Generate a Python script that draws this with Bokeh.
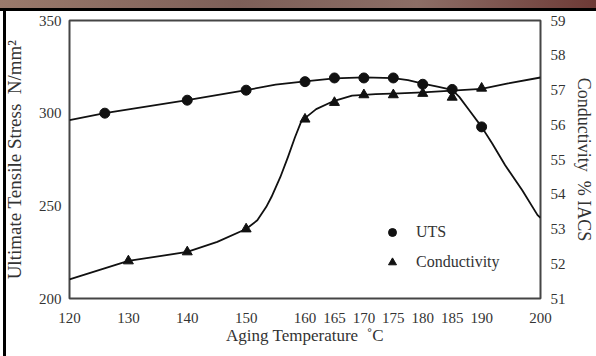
from bokeh.plotting import figure
from bokeh.models import Range1d, LinearAxis, FixedTicker, Legend, LegendItem
from bokeh.embed import file_html
from bokeh.resources import INLINE

# ---- data ----
x_ticks = [120, 130, 140, 150, 160, 165, 170, 175, 180, 185, 190, 200]
uts_ticks = [200, 250, 300, 350]
cond_ticks = [51, 52, 53, 54, 55, 56, 57, 58, 59]

uts_temp = [126, 140, 150, 160, 165, 170, 175, 180, 185, 190]
uts_val = [300, 307, 312.4, 317, 319, 319, 319, 315.6, 312.8, 292.6]

cond_temp = [130, 140, 150, 160, 165, 170, 175, 180, 185, 190]
cond_val = [52.08, 52.34, 53.0, 56.16, 56.64, 56.86, 56.86, 56.9, 56.79, 57.05]

# fitted curves
uts_curve_temp = [120, 126, 140, 150, 155, 160, 165, 170, 175, 177.5, 180, 182.5, 185,
                  186.2, 187.9, 190, 191.8, 194, 196.9, 199.5, 200]
uts_curve_val = [296.2, 300, 307, 312.4, 315.4, 317.2, 318.8, 319.3, 318.9, 317.8, 316, 314.3, 312.6,
                 308.8, 301.6, 292.6, 283.6, 271.9, 258.4, 245, 243.5]

cond_curve_temp = [120, 130, 140, 145.1, 150, 151.9, 153.4, 154.3, 155.8, 157.1, 158.3, 159.3, 160,
                   161.9, 164.7, 168, 172, 176, 180, 185, 190, 194.5, 200]
cond_curve_val = [51.55, 52.08, 52.34, 52.63, 53.0, 53.25, 53.63, 53.92, 54.49, 55.07, 55.64, 56.07, 56.19,
                  56.45, 56.67, 56.84, 56.88, 56.9, 56.93, 56.98, 57.03, 57.19, 57.36]

FONT = "Liberation Serif"
SP = "\u00a0\u00a0"

page_bg = {
    "background-color": "white",
    "background-image": ("linear-gradient(90deg, #9a7a6c, #7d5f58 40%, #8c6e66 70%, #6e3a36), "
                         "linear-gradient(#000, #000), linear-gradient(#000, #000)"),
    "background-position": "0 0, 0 8px, 3px 8px",
    "background-size": "100% 8px, 100% 3px, 3px 100%",
    "background-repeat": "no-repeat",
    "border": "none",
    "outline": "none",
    "box-shadow": "none",
}

p = figure(width=596, height=356, output_backend="svg", toolbar_location=None,
           x_range=Range1d(120, 200), y_range=Range1d(200, 350),
           min_border_left=68, min_border_right=53, min_border_top=20, min_border_bottom=58,
           styles=page_bg)
p.extra_y_ranges = {"cond": Range1d(51, 59)}
p.xgrid.visible = False
p.ygrid.visible = False
p.background_fill_color = "white"
p.border_fill_alpha = 0
p.outline_line_color = "#454545"
p.outline_line_width = 2

# axes
p.xaxis.ticker = FixedTicker(ticks=x_ticks)
p.yaxis.ticker = FixedTicker(ticks=uts_ticks)
right = LinearAxis(y_range_name="cond", ticker=FixedTicker(ticks=cond_ticks))
p.add_layout(right, "right")

p.xaxis.axis_label = "Aging Temperature" + SP + "\u02daC"
p.yaxis.axis_label = "Ultimate Tensile Stress" + SP + "N/mm\u00b2"
right.axis_label = "Conductivity" + SP + "% IACS"

for ax, lsz, tsz in ((p.xaxis[0], "15px", "17px"), (p.yaxis[0], "15px", "19px"), (right, "15px", "18px")):
    ax.axis_line_color = None
    ax.major_tick_line_color = None
    ax.minor_tick_line_color = None
    ax.major_tick_out = 0
    ax.major_tick_in = 0
    ax.minor_tick_out = 0
    ax.major_label_text_font = FONT
    ax.major_label_text_font_size = lsz
    ax.major_label_text_color = "#333333"
    ax.axis_label_text_font = FONT
    ax.axis_label_text_font_size = tsz
    ax.axis_label_text_font_style = "normal"
    ax.axis_label_text_color = "#333333"

p.xaxis.major_label_standoff = 14
p.xaxis.axis_label_standoff = 0
p.yaxis.major_label_standoff = 8
p.yaxis.axis_label_standoff = 11
right.major_label_standoff = 10
right.axis_label_standoff = 5

# curves
p.line(uts_curve_temp, uts_curve_val, line_color="#111111", line_width=1.8, line_join="round")
p.line(cond_curve_temp, cond_curve_val, line_color="#111111", line_width=1.8, line_join="round",
       y_range_name="cond")

# markers
r_uts = p.scatter(uts_temp, uts_val, marker="circle", size=10, fill_color="#111111", line_color="#111111")
r_cond = p.scatter(cond_temp, cond_val, marker="triangle", size=10, fill_color="#111111",
                   line_color="#111111", y_range_name="cond")

legend = Legend(items=[LegendItem(label="UTS", renderers=[r_uts]),
                       LegendItem(label="Conductivity", renderers=[r_cond])],
                location=(313, 26), orientation="vertical",
                label_text_font=FONT, label_text_font_size="16px", label_text_color="#333333",
                glyph_width=20, glyph_height=20, label_height=20, spacing=10,
                label_standoff=14, padding=0, margin=0,
                border_line_color=None, background_fill_alpha=0)
p.add_layout(legend, "center")

open("out.html", "w").write(file_html(p, INLINE))
